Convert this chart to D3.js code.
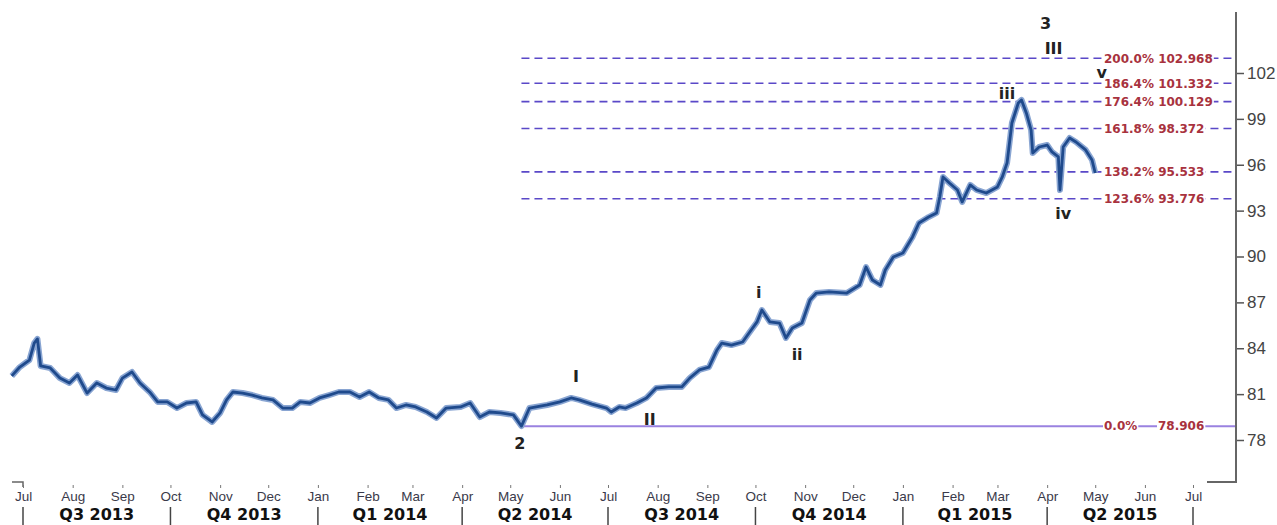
<!DOCTYPE html>
<html>
<head>
<meta charset="utf-8">
<script src="https://cdn.jsdelivr.net/npm/d3@7"></script>
<style>
  body { margin: 0; background: #fff; }
  svg { display: block; }
</style>
</head>
<body>
<script>
// daily USD index
var dates = ["2013-06-24","2013-06-29","2013-07-05","2013-07-08","2013-07-10","2013-07-12","2013-07-18","2013-07-24","2013-07-30","2013-08-04",
  "2013-08-10","2013-08-16","2013-08-22","2013-08-28","2013-09-01","2013-09-07","2013-09-12","2013-09-18","2013-09-23","2013-09-29",
  "2013-10-05","2013-10-11","2013-10-17","2013-10-21","2013-10-27","2013-11-01","2013-11-05","2013-11-09","2013-11-15","2013-11-21",
  "2013-11-27","2013-12-04","2013-12-10","2013-12-16","2013-12-21","2013-12-27","2014-01-02","2014-01-08","2014-01-14","2014-01-21",
  "2014-01-27","2014-02-02","2014-02-08","2014-02-14","2014-02-19","2014-02-25","2014-03-03","2014-03-10","2014-03-16","2014-03-22",
  "2014-03-31","2014-04-06","2014-04-12","2014-04-18","2014-04-25","2014-05-03","2014-05-08","2014-05-13","2014-05-24","2014-06-01",
  "2014-06-08","2014-06-13","2014-06-21","2014-06-30","2014-07-03","2014-07-08","2014-07-12","2014-07-19","2014-07-25","2014-07-31",
  "2014-08-08","2014-08-16","2014-08-21","2014-08-27","2014-09-02","2014-09-07","2014-09-10","2014-09-16","2014-09-23","2014-09-27",
  "2014-10-02","2014-10-05","2014-10-10","2014-10-16","2014-10-20","2014-10-24","2014-10-30","2014-11-04","2014-11-08","2014-11-16",
  "2014-11-27","2014-12-05","2014-12-09","2014-12-13","2014-12-18","2014-12-21","2014-12-26","2015-01-01","2015-01-07","2015-01-11",
  "2015-01-17","2015-01-22","2015-01-24","2015-01-26","2015-01-30","2015-02-04","2015-02-07","2015-02-12","2015-02-16","2015-02-22",
  "2015-03-01","2015-03-04","2015-03-07","2015-03-10","2015-03-14","2015-03-16","2015-03-19","2015-03-22","2015-03-23","2015-03-27",
  "2015-04-01","2015-04-04","2015-04-08","2015-04-09","2015-04-11","2015-04-15","2015-04-19","2015-04-25","2015-04-29","2015-05-01"];
var closes = [82.19,82.77,83.23,84.34,84.61,82.84,82.71,82.05,81.73,82.25,
  81.07,81.73,81.40,81.27,82.05,82.45,81.73,81.14,80.49,80.49,
  80.09,80.42,80.49,79.64,79.18,79.77,80.62,81.14,81.07,80.94,
  80.75,80.62,80.09,80.09,80.49,80.42,80.75,80.94,81.14,81.14,
  80.81,81.14,80.75,80.62,80.09,80.29,80.16,79.83,79.44,80.09,
  80.16,80.42,79.50,79.83,79.77,79.64,78.91,80.09,80.29,80.49,
  80.75,80.62,80.35,80.09,79.83,80.16,80.09,80.42,80.75,81.40,
  81.47,81.47,82.05,82.58,82.77,83.89,84.34,84.21,84.41,85.00,
  85.72,86.50,85.72,85.65,84.67,85.33,85.65,87.16,87.61,87.68,
  87.61,88.14,89.31,88.46,88.14,89.12,89.97,90.23,91.28,92.19,
  92.58,92.85,93.89,95.20,94.81,94.35,93.57,94.68,94.35,94.15,
  94.55,95.20,96.12,98.73,100.04,100.24,99.39,98.27,96.77,97.16,
  97.29,96.84,96.51,94.35,97.16,97.75,97.49,96.97,96.31,95.46];

var yTicks = [78, 81, 84, 87, 90, 93, 96, 99, 102];
var quarters = ["Q3 2013", "Q4 2013", "Q1 2014", "Q2 2014", "Q3 2014", "Q4 2014", "Q1 2015", "Q2 2015"];
var quarterStarts = ["2013-07-01", "2013-10-01", "2014-01-01", "2014-04-01", "2014-07-01",
  "2014-10-01", "2015-01-01", "2015-04-01", "2015-07-01"];

var fibPct = ["200.0%", "186.4%", "176.4%", "161.8%", "138.2%", "123.6%", "0.0%"];
var fibVal = [102.968, 101.332, 100.129, 98.372, 95.533, 93.776, 78.906];
var fibStart = "2014-05-08";

var waveText = ["2", "I", "II", "i", "ii", "iii", "iv", "v", "III", "3"];
var waveDates = ["2014-05-07", "2014-06-11", "2014-07-27", "2014-10-03", "2014-10-27",
  "2015-03-07", "2015-04-11", "2015-05-05", "2015-04-05", "2015-03-31"];
var waveVals = [77.80, 82.19, 79.37, 87.68, 83.62, 100.69, 92.85, 102.07, 103.64, 105.27];

var w = 1277;
var h = 525;
var parse = d3.utcParse("%Y-%m-%d");

var x = d3.scaleUtc()
        .domain([parse("2013-07-01"), parse("2015-07-01")])
        .range([23, 1193]);
var y = d3.scaleLinear()
        .domain([78, 102])
        .range([440, 73]);

var svg = d3.select("body")
        .append("svg")
        .attr("width", w)
        .attr("height", h);

svg.append("rect").attr("width", w).attr("height", h).attr("fill", "#fff");

var data = dates.map(function (d, i) {
    return {date: parse(d), v: closes[i]};
});

// fibonacci levels
var x0 = x(parse(fibStart));
svg.selectAll("line.fib")
        .data(fibVal)
        .enter()
        .append("line")
        .attr("class", "fib")
        .attr("x1", x0)
        .attr("x2", 1236)
        .attr("y1", function (d) { return y(d); })
        .attr("y2", function (d) { return y(d); })
        .attr("stroke", function (d, i) { return fibPct[i] == "0.0%" ? "#9a82e0" : "#5a48c8"; })
        .attr("stroke-width", function (d, i) { return fibPct[i] == "0.0%" ? 2 : 1.6; })
        .attr("stroke-dasharray", function (d, i) { return fibPct[i] == "0.0%" ? null : "8,5"; });

// price line
var line = d3.line()
        .x(function (d) { return x(d.date); })
        .y(function (d) { return y(d.v); });

svg.append("path")
        .datum(data)
        .attr("d", line)
        .attr("fill", "none")
        .attr("stroke", "#89a5d2")
        .attr("stroke-width", 6)
        .attr("stroke-linejoin", "round");
svg.append("path")
        .datum(data)
        .attr("d", line)
        .attr("fill", "none")
        .attr("stroke", "#1f4a8c")
        .attr("stroke-width", 2.8)
        .attr("stroke-linejoin", "round");

// fib labels
fibVal.forEach(function (v, i) {
    var g = svg.append("g");
    var bg = g.append("rect").attr("fill", "#fff");
    var t = g.append("text")
            .attr("x", 1104)
            .attr("y", y(v))
            .attr("dy", "0.36em")
            .style("font-family", "'DejaVu Sans', sans-serif")
            .style("font-weight", "bold")
            .style("font-size", "12px")
            .style("fill", "#a8323e");
    if (fibPct[i] == "0.0%") {
        t.text(fibPct[i]);
        var b = t.node().getBBox();
        bg.attr("x", b.x - 1).attr("y", b.y).attr("width", b.width + 2).attr("height", b.height);
        var bg2 = g.append("rect").attr("fill", "#fff");
        var t2 = g.append("text")
                .attr("x", 1158)
                .attr("y", y(v))
                .attr("dy", "0.36em")
                .style("font-family", "'DejaVu Sans', sans-serif")
                .style("font-weight", "bold")
                .style("font-size", "12px")
                .style("fill", "#a8323e")
                .text(v.toFixed(3));
        var b2 = t2.node().getBBox();
        bg2.attr("x", b2.x - 1).attr("y", b2.y).attr("width", b2.width + 2).attr("height", b2.height);
        t2.raise();
    } else {
        t.text(fibPct[i] + " " + v.toFixed(3));
        var b = t.node().getBBox();
        bg.attr("x", b.x - 1).attr("y", b.y).attr("width", b.width + 2).attr("height", b.height);
    }
});

// wave labels
svg.selectAll("text.wave")
        .data(waveText)
        .enter()
        .append("text")
        .attr("class", "wave")
        .attr("x", function (d, i) { return x(parse(waveDates[i])); })
        .attr("y", function (d, i) { return y(waveVals[i]); })
        .attr("dy", "0.36em")
        .attr("text-anchor", "middle")
        .style("font-family", "'DejaVu Sans', sans-serif")
        .style("font-weight", "bold")
        .style("font-size", "16px")
        .style("fill", "#222")
        .text(function (d) { return d; });

// y axis
var yAxis = svg.append("g")
        .attr("transform", "translate(1236,0)")
        .call(d3.axisRight(y).tickValues(yTicks).tickSize(8).tickPadding(3));
yAxis.select(".domain").remove();
yAxis.selectAll(".tick line").attr("stroke", "#555").attr("stroke-width", 1.5);
yAxis.selectAll(".tick text")
        .style("font-family", "'Liberation Sans', Arial, sans-serif")
        .style("font-size", "17px")
        .style("fill", "#444");

svg.append("path")
        .attr("d", "M1236,12V482H1207")
        .attr("fill", "none")
        .attr("stroke", "#666")
        .attr("stroke-width", 2);
svg.append("path")
        .attr("d", "M12,482H23V487")
        .attr("fill", "none")
        .attr("stroke", "#666")
        .attr("stroke-width", 1.5);

// month axis
var xAxis = svg.append("g")
        .attr("transform", "translate(0,485)")
        .call(d3.axisBottom(x)
                .ticks(d3.utcMonth.every(1))
                .tickFormat(d3.utcFormat("%b"))
                .tickSize(3)
                .tickPadding(3));
xAxis.select(".domain").remove();
xAxis.selectAll(".tick line").attr("stroke", "#777");
xAxis.selectAll(".tick text")
        .style("font-family", "'Liberation Sans', Arial, sans-serif")
        .style("font-size", "13.5px")
        .style("fill", "#3a3a4a");

// quarter row
svg.selectAll("line.qsep")
        .data(quarterStarts)
        .enter()
        .append("line")
        .attr("class", "qsep")
        .attr("x1", function (d) { return x(parse(d)); })
        .attr("x2", function (d) { return x(parse(d)); })
        .attr("y1", 507)
        .attr("y2", 525)
        .attr("stroke", "#444")
        .attr("stroke-width", 1.5);

svg.selectAll("text.q")
        .data(quarters)
        .enter()
        .append("text")
        .attr("class", "q")
        .attr("x", function (d, i) {
            return (x(parse(quarterStarts[i])) + x(parse(quarterStarts[i + 1]))) / 2;
        })
        .attr("y", 520)
        .attr("text-anchor", "middle")
        .style("font-family", "'DejaVu Sans', sans-serif")
        .style("font-weight", "bold")
        .style("font-size", "16px")
        .style("fill", "#111")
        .text(function (d) { return d; });
</script>
</body>
</html>
